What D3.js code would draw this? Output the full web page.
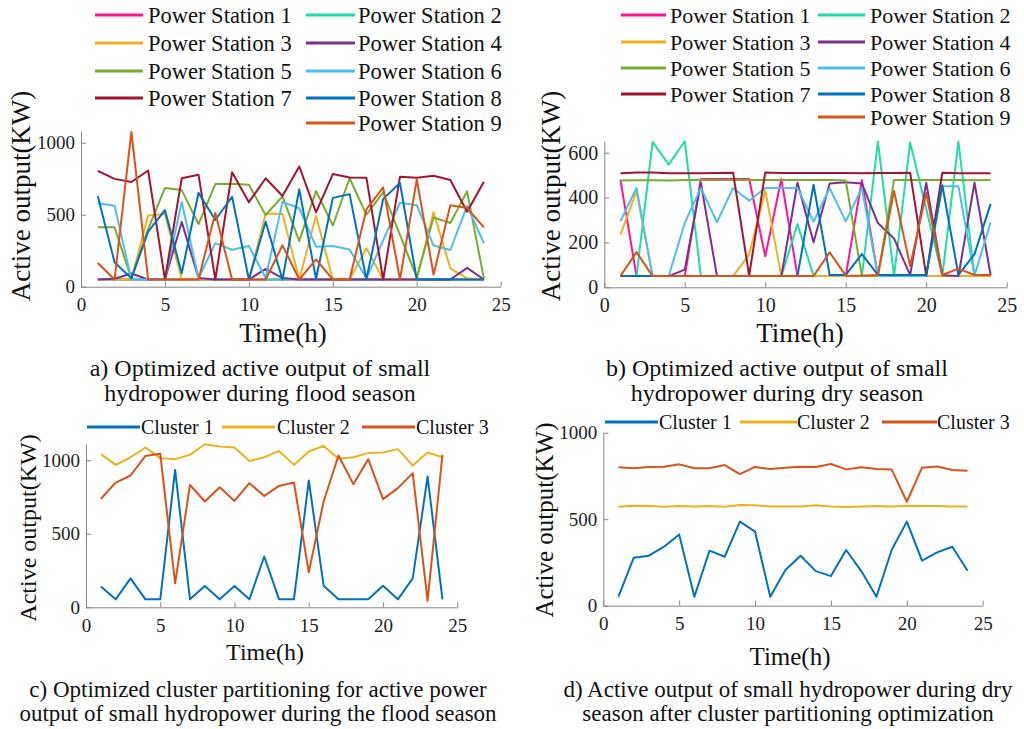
<!DOCTYPE html>
<html>
<head>
<meta charset="utf-8">
<script src="https://cdn.jsdelivr.net/npm/d3@7"></script>
<style>
  body { margin: 0; background: #fff; }
  svg { display: block; font-family: "Liberation Serif", "Times New Roman", serif; }
</style>
</head>
<body>
<svg width="1024" height="729"></svg>
<script>
var hours = [1, 2, 3, 4, 5, 6, 7, 8, 9, 10, 11, 12, 13, 14, 15, 16, 17, 18, 19, 20, 21, 22, 23, 24];
var xTicks = [0, 5, 10, 15, 20, 25];
var yTicksFlood = [0, 500, 1000];
var yTicksDry = [0, 200, 400, 600];

var stationNames = ["Power Station 1", "Power Station 2", "Power Station 3", "Power Station 4", "Power Station 5",
                    "Power Station 6", "Power Station 7", "Power Station 8", "Power Station 9"];
var clusterNames = ["Cluster 1", "Cluster 2", "Cluster 3"];

// a) flood season, per station (KW)
var flood1 = [50, 50, 50, 50, 50, 50, 50, 50, 50, 50, 50, 50, 50, 50, 50, 50, 50, 50, 50, 50, 50, 50, 50, 50];
var flood2 = [50, 50, 50, 50, 50, 50, 50, 50, 50, 50, 50, 50, 50, 50, 50, 50, 50, 50, 50, 50, 50, 50, 50, 50];
var flood3 = [50, 50, 50, 495, 505, 50, 50, 50, 50, 50, 507, 507, 50, 493, 50, 50, 267, 50, 50, 50, 518, 128, 58, 50];
var flood4 = [50, 55, 92, 50, 50, 450, 60, 50, 50, 50, 124, 60, 50, 50, 50, 50, 50, 50, 50, 50, 50, 50, 131, 50];
var flood5 = [413, 413, 55, 400, 686, 671, 435, 713, 715, 708, 498, 627, 318, 665, 425, 753, 500, 655, 360, 65, 481, 442, 662, 55];
var flood6 = [579, 563, 50, 50, 50, 588, 58, 303, 257, 282, 60, 588, 545, 278, 282, 259, 58, 322, 583, 566, 286, 255, 562, 302];
var flood7 = [805, 749, 727, 807, 50, 753, 778, 50, 795, 587, 753, 630, 835, 516, 782, 759, 757, 50, 764, 757, 771, 741, 521, 729];
var flood8 = [630, 170, 58, 382, 532, 93, 653, 463, 625, 50, 451, 50, 676, 55, 617, 643, 50, 610, 720, 50, 50, 50, 50, 50];
var flood9 = [164, 50, 1075, 50, 50, 50, 50, 512, 50, 50, 50, 287, 50, 190, 50, 50, 537, 690, 50, 745, 85, 565, 546, 412];

// b) dry season, per station (KW)
var dry1 = [480, 50, 50, 50, 50, 483, 483, 483, 483, 138, 483, 50, 50, 50, 50, 478, 50, 50, 50, 50, 50, 50, 50, 50];
var dry2 = [50, 50, 648, 547, 651, 50, 50, 50, 50, 50, 50, 282, 50, 50, 50, 50, 649, 50, 645, 350, 50, 650, 50, 50];
var dry3 = [235, 428, 50, 50, 50, 50, 50, 50, 146, 431, 50, 50, 50, 50, 50, 50, 50, 50, 50, 50, 50, 50, 50, 50];
var dry4 = [50, 50, 50, 50, 79, 465, 50, 50, 50, 50, 50, 466, 201, 463, 468, 463, 286, 218, 54, 466, 54, 50, 466, 54];
var dry5 = [476, 477, 477, 476, 478, 478, 478, 478, 478, 478, 478, 478, 478, 478, 476, 52, 52, 478, 478, 478, 478, 478, 477, 478];
var dry6 = [294, 443, 50, 50, 287, 443, 290, 443, 386, 443, 443, 443, 292, 442, 294, 442, 50, 50, 50, 50, 451, 451, 52, 290];
var dry7 = [508, 512, 512, 508, 509, 509, 510, 511, 52, 512, 510, 510, 510, 510, 510, 508, 510, 510, 511, 52, 511, 508, 508, 508];
var dry8 = [50, 50, 50, 50, 50, 50, 50, 50, 50, 50, 50, 50, 457, 55, 55, 148, 55, 55, 55, 55, 455, 55, 148, 372];
var dry9 = [50, 157, 50, 50, 50, 50, 50, 50, 50, 50, 50, 50, 50, 156, 52, 52, 55, 430, 95, 420, 55, 83, 55, 55];

// c) flood season clusters
var floodCluster1 = [141, 54, 197, 54, 54, 934, 54, 145, 54, 145, 54, 345, 54, 54, 862, 147, 54, 54, 54, 147, 54, 197, 889, 54];
var floodCluster2 = [1041, 968, 1020, 1086, 1014, 1007, 1036, 1108, 1093, 1086, 995, 1020, 1063, 968, 1059, 1097, 1009, 1020, 1048, 1052, 1075, 964, 1052, 1020];
var floodCluster3 = [737, 848, 896, 1029, 1043, 163, 832, 719, 816, 723, 844, 757, 825, 848, 238, 719, 1032, 837, 1007, 735, 810, 912, 45, 1036];

// d) dry season clusters
var dryCluster1 = [52, 277, 289, 341, 412, 52, 318, 283, 486, 428, 52, 206, 289, 200, 171, 322, 200, 52, 322, 486, 260, 308, 341, 202];
var dryCluster2 = [572, 578, 576, 572, 576, 574, 576, 572, 582, 580, 574, 574, 574, 580, 574, 570, 574, 576, 574, 578, 576, 576, 574, 574];
var dryCluster3 = [800, 794, 802, 803, 817, 794, 794, 813, 761, 802, 790, 798, 803, 802, 819, 788, 800, 790, 788, 601, 798, 805, 784, 780];

var stationColors = ["#ff1493", "#1fdca8", "#edb120", "#7e2f8e", "#77ac30", "#4dbeee", "#a2142f", "#0072bd", "#d95319"];
var clusterColors = ["#0072bd", "#edb120", "#d95319"];

var svg = d3.select("svg");
var serif = "'Liberation Serif', 'Times New Roman', serif";

function drawPanel(p) {
  var x = d3.scaleLinear().domain([0, 25]).range([p.left, p.right]),
      y = d3.scaleLinear().domain([0, p.yMax]).range([p.bottom, p.top]);

  var g = svg.append("g");

  var line = d3.line()
    .x(function(d, i) { return x(hours[i]); })
    .y(function(d) { return y(d); });

  p.series.forEach(function(s, i) {
    g.append("path")
      .datum(s)
      .attr("d", line)
      .attr("fill", "none")
      .attr("stroke", p.colors[i])
      .attr("stroke-width", p.lineWidth)
      .attr("stroke-linejoin", "round");
  });

  var xa = g.append("g")
    .attr("transform", "translate(0," + p.bottom + ")")
    .call(d3.axisBottom(x).tickValues(xTicks).tickFormat(d3.format("d"))
      .tickSizeInner(-5).tickSizeOuter(0).tickPadding(11));
  var ya = g.append("g")
    .attr("transform", "translate(" + p.left + ",0)")
    .call(d3.axisLeft(y).tickValues(p.yTicks).tickFormat(d3.format("d"))
      .tickSizeInner(-5).tickSizeOuter(0).tickPadding(6));

  [xa, ya].forEach(function(a) {
    a.attr("font-family", serif).attr("font-size", p.tickFont).attr("color", "#858585");
    a.selectAll("text").attr("fill", "#222");
  });

  // axis titles
  g.append("text")
    .attr("text-anchor", "middle")
    .attr("transform", "translate(" + p.yLabel[0] + "," + p.yLabel[1] + ")rotate(-90)")
    .attr("font-size", p.yLabel[2])
    .attr("fill", "#111")
    .text("Active output(KW)");

  g.append("text")
    .attr("text-anchor", "middle")
    .attr("x", p.xLabel[0])
    .attr("y", p.xLabel[1])
    .attr("font-size", p.xLabel[2])
    .attr("fill", "#111")
    .text("Time(h)");

  // caption under the panel
  p.caption.forEach(function(c, i) {
    g.append("text")
      .attr("text-anchor", "middle")
      .attr("x", p.captionX)
      .attr("y", p.captionY + i * p.captionGap)
      .attr("font-size", p.captionFont)
      .attr("fill", "#111")
      .text(c);
  });

  // legend
  p.legend.forEach(function(L, i) {
    g.append("line")
      .attr("x1", L[0]).attr("x2", L[1])
      .attr("y1", L[3]).attr("y2", L[3])
      .attr("stroke", p.colors[i])
      .attr("stroke-width", 3);
    g.append("text")
      .attr("x", L[2])
      .attr("y", L[3])
      .attr("dy", "0.35em")
      .attr("font-size", p.legendFont)
      .attr("fill", "#111")
      .text(p.names[i]);
  });
}

drawPanel({
  left: 81, right: 500.7, bottom: 286.7, top: 131.2, yMax: 1080, yTicks: yTicksFlood,
  series: [flood1, flood2, flood3, flood4, flood5, flood6, flood7, flood8, flood9],
  colors: stationColors, names: stationNames, lineWidth: 2, tickFont: 19,
  yLabel: [30, 196, 27], xLabel: [283, 342, 27],
  caption: ["a) Optimized active output of small", "hydropower during flood season"],
  captionX: 260, captionY: 376, captionGap: 25, captionFont: 24,
  legendFont: 22.5,
  legend: [[95, 143, 148, 15], [306, 355, 358, 15], [95, 143, 148, 43], [306, 355, 358, 43],
           [95, 143, 148, 71], [306, 355, 358, 71], [95, 143, 148, 98], [306, 355, 358, 98],
           [306, 355, 358, 123]]
});

drawPanel({
  left: 604.3, right: 1006.7, bottom: 287.3, top: 141.5, yMax: 650, yTicks: yTicksDry,
  series: [dry1, dry2, dry3, dry4, dry5, dry6, dry7, dry8, dry9],
  colors: stationColors, names: stationNames, lineWidth: 2, tickFont: 20,
  yLabel: [560, 196, 27], xLabel: [800, 342, 27],
  caption: ["b) Optimized active output of small", "hydropower during dry season"],
  captionX: 777, captionY: 376, captionGap: 25, captionFont: 24,
  legendFont: 22,
  legend: [[621, 666, 670, 15], [818, 865, 870, 15], [621, 666, 670, 42], [818, 865, 870, 42],
           [621, 666, 670, 68], [818, 865, 870, 68], [621, 666, 670, 94], [818, 865, 870, 94],
           [818, 865, 870, 117]]
});

drawPanel({
  left: 86, right: 457.3, bottom: 607.3, top: 444, yMax: 1110, yTicks: yTicksFlood,
  series: [floodCluster1, floodCluster2, floodCluster3],
  colors: clusterColors, names: clusterNames, lineWidth: 2, tickFont: 19,
  yLabel: [36, 528, 24], xLabel: [265, 660, 24],
  caption: ["c) Optimized cluster partitioning for active power", "output of small hydropower during the flood season"],
  captionX: 258, captionY: 697, captionGap: 24, captionFont: 23,
  legendFont: 20,
  legend: [[87, 140, 141, 427], [222, 275, 277, 427], [362, 415, 416, 427]]
});

drawPanel({
  left: 603.3, right: 982.7, bottom: 605.7, top: 432.7, yMax: 1000, yTicks: yTicksFlood,
  series: [dryCluster1, dryCluster2, dryCluster3],
  colors: clusterColors, names: clusterNames, lineWidth: 2, tickFont: 19,
  yLabel: [553, 520, 25], xLabel: [790, 665, 25],
  caption: ["d) Active output of small hydropower during dry", "season after cluster partitioning optimization"],
  captionX: 788, captionY: 697, captionGap: 24, captionFont: 23,
  legendFont: 20,
  legend: [[605, 658, 659, 422], [740, 797, 797, 422], [882, 937, 937, 422]]
});
</script>
</body>
</html>
